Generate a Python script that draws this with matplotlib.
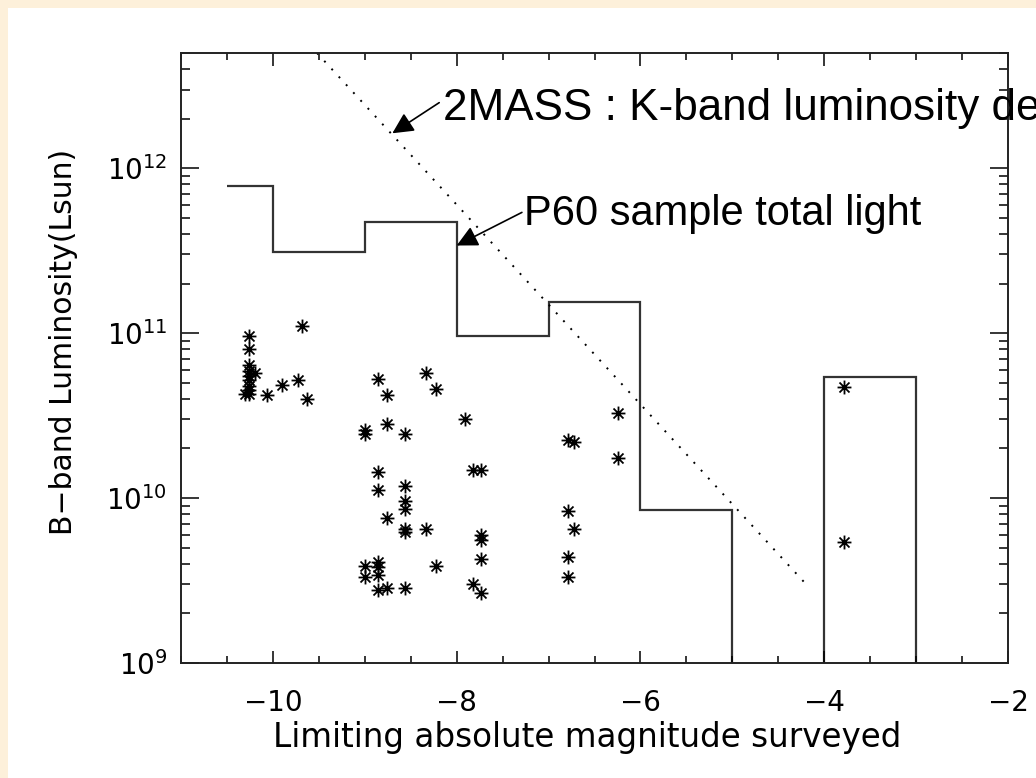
import matplotlib
matplotlib.use("Agg")
import matplotlib.pyplot as plt
from matplotlib.path import Path
from matplotlib.patches import Rectangle
from matplotlib.ticker import MultipleLocator, LogLocator, NullFormatter

# P60 sample total light per magnitude bin
bin_edges = [-10.5, -10, -9, -8, -7, -6, -5, -4, -3, -2]
bin_light = [7.8e11, 3.1e11, 4.7e11, 9.6e10, 1.55e11, 8.5e9, 0, 5.4e10, 0]

# 2MASS K-band luminosity density line (end points)
mass_mag = [-9.52, -4.22]
mass_lum = [5.0e12, 3.1e9]

# individual galaxies
gal_mag = [-10.26, -10.26, -10.26, -10.26, -10.26, -10.26, -10.26, -10.26, -10.30, -10.26, -10.20,
           -10.06, -9.90, -9.73, -9.68, -9.63,
           -9.00, -9.00, -8.86, -8.76, -8.76, -8.56, -8.33, -8.22, -7.91,
           -8.86, -8.86, -8.56, -8.56, -8.56, -8.76, -8.56, -8.56, -8.33,
           -9.00, -9.00, -8.86, -8.86, -8.86, -8.86, -8.76, -8.56, -8.23,
           -7.82, -7.74, -7.74, -7.74, -7.74, -7.82, -7.74,
           -6.24, -6.79, -6.72, -6.24, -6.79, -6.72, -6.79, -6.79,
           -3.79, -3.79]
gal_lum = [9.6e10, 8.0e10, 6.4e10, 5.9e10, 5.5e10, 5.2e10, 4.8e10, 4.5e10, 4.3e10, 4.3e10, 5.7e10,
           4.2e10, 4.85e10, 5.2e10, 1.11e11, 4.0e10,
           2.6e10, 2.45e10, 5.3e10, 4.2e10, 2.8e10, 2.45e10, 5.7e10, 4.6e10, 3.0e10,
           1.43e10, 1.12e10, 1.19e10, 9.6e9, 8.6e9, 7.6e9, 6.5e9, 6.2e9, 6.5e9,
           3.9e9, 3.3e9, 4.1e9, 3.8e9, 3.4e9, 2.76e9, 2.86e9, 2.84e9, 3.9e9,
           1.47e10, 1.47e10, 6.0e9, 5.6e9, 4.3e9, 3.0e9, 2.67e9,
           3.3e10, 2.25e10, 2.2e10, 1.75e10, 8.4e9, 6.5e9, 4.4e9, 3.3e9,
           4.7e10, 5.4e9]

# asterisk symbol like IDL psym=2: + and x on top of each other
star = Path([(0, -1), (0, 1), (-1, 0), (1, 0),
             (-0.72, -0.72), (0.72, 0.72), (-0.72, 0.72), (0.72, -0.72)],
            [Path.MOVETO, Path.LINETO] * 4)

fig = plt.figure(figsize=(10.36, 7.78), dpi=100, facecolor="#fdf0da")
fig.patches.append(Rectangle((8 / 1036, 0), 1, 770 / 778, transform=fig.transFigure,
                             facecolor="white", edgecolor="none", zorder=-5))

ax = fig.add_axes([181 / 1036, 1 - 663 / 778, 827 / 1036, 610 / 778])
ax.set_facecolor("white")

ax.stairs(bin_light, bin_edges, baseline=None, color="#333333", lw=1.6)
ax.plot(mass_mag, mass_lum, color="black", lw=1.4, dashes=(1, 4.5))
ax.plot(gal_mag, gal_lum, ls="none", marker=star, ms=10, mec="black", mew=1.3)

ax.set_yscale("log")
ax.set_xlim(-11, -2)
ax.set_ylim(1e9, 5e12)

ax.xaxis.set_major_locator(MultipleLocator(2))
ax.xaxis.set_minor_locator(MultipleLocator(0.5))
ax.yaxis.set_major_locator(LogLocator(base=10))
ax.yaxis.set_minor_locator(LogLocator(base=10, subs=range(2, 10)))
ax.yaxis.set_minor_formatter(NullFormatter())

ax.tick_params(which="both", direction="in", top=True, right=True, color="black")
ax.tick_params(axis="x", which="major", length=9, width=1.1, pad=19, labelsize=20)
ax.tick_params(axis="x", which="minor", length=5, width=1.1)
ax.tick_params(axis="y", which="major", length=13, width=1.1, pad=10, labelsize=20)
ax.tick_params(axis="y", which="minor", length=6.5, width=1.1)
for s in ax.spines.values():
    s.set_linewidth(1.4)
    s.set_color("#222222")

ax.set_xlabel("Limiting absolute magnitude surveyed", fontsize=23.5)
ax.set_ylabel("B\u2212band Luminosity(Lsun)", fontsize=21.5)
ax.xaxis.set_label_coords(0.4915, -0.095)
ax.yaxis.set_label_coords(-0.124, 0.527)

ax.annotate("", xy=(-8.70, 1.63e12), xytext=(-8.19, 2.5e12),
            arrowprops=dict(arrowstyle="-|>", color="black", lw=1.2, mutation_scale=32,
                            shrinkA=0, shrinkB=0))
ax.text(-8.152, 1.95e12, "2MASS : K-band luminosity density", family="Liberation Sans",
        fontsize=31.7, va="baseline", ha="left", clip_on=False)

ax.annotate("", xy=(-8.0, 3.4e11), xytext=(-7.29, 5.4e11),
            arrowprops=dict(arrowstyle="-|>", color="black", lw=1.2, mutation_scale=32,
                            shrinkA=0, shrinkB=0))
ax.text(-7.27, 4.5e11, "P60 sample total light", family="Liberation Sans",
        fontsize=30, va="baseline", ha="left")

fig.savefig("out.png", dpi=100, facecolor=fig.get_facecolor())
